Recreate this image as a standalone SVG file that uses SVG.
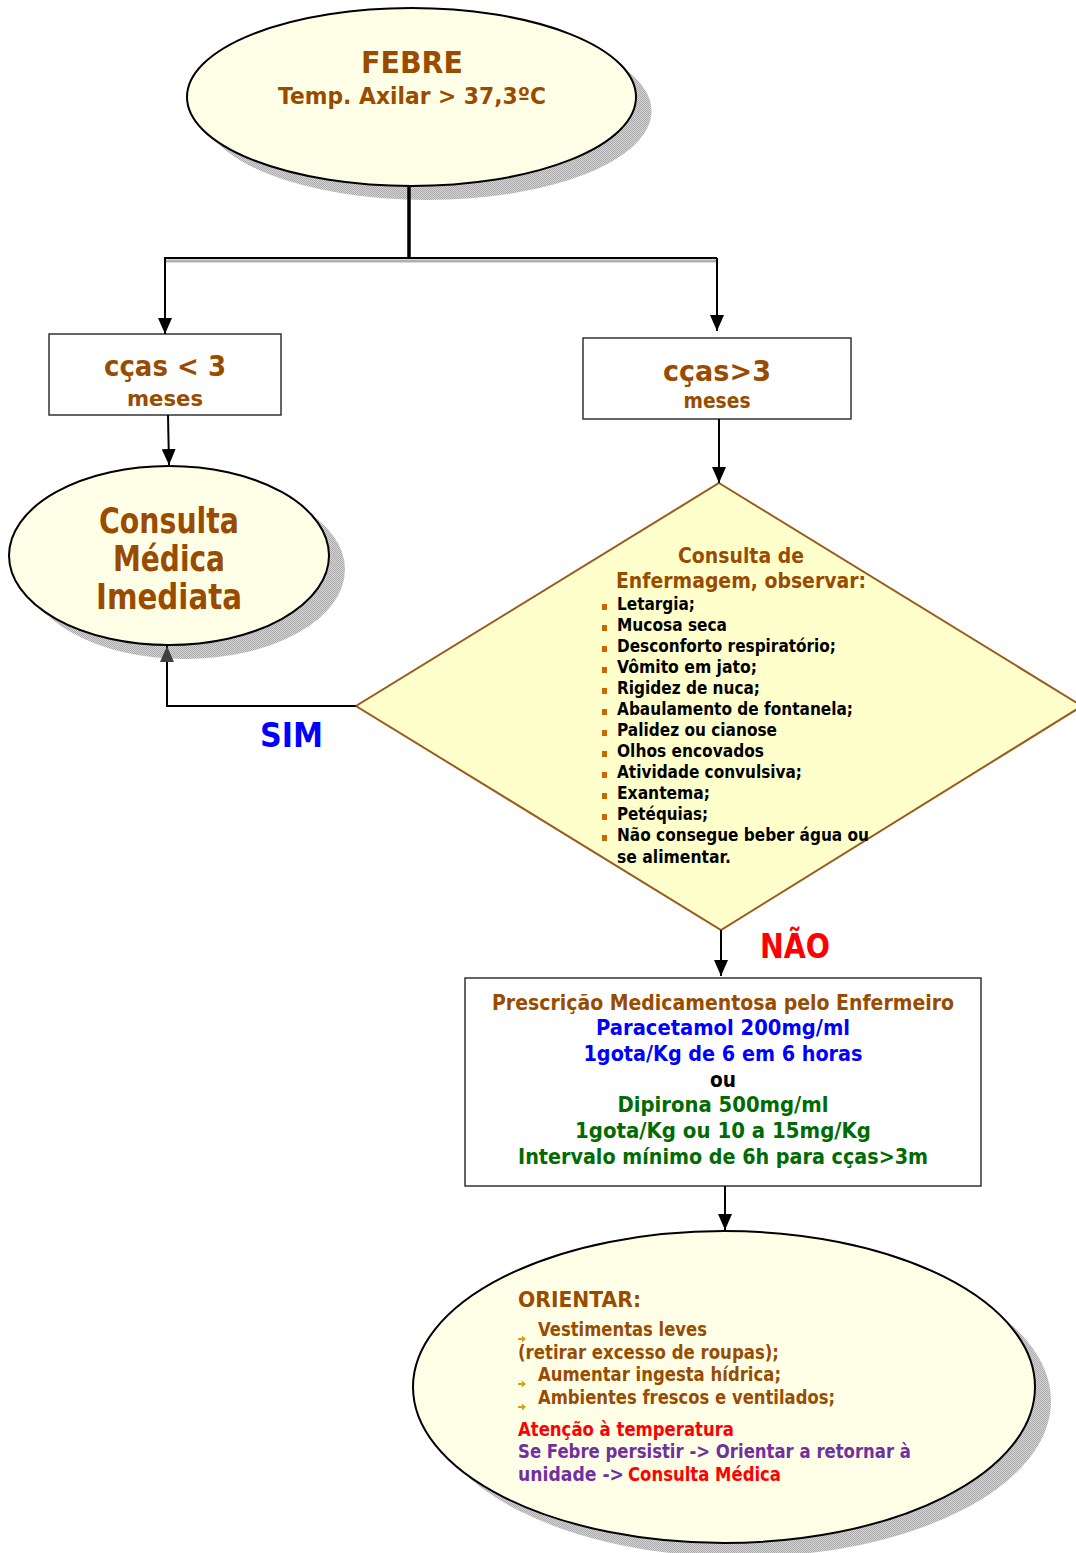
<svg xmlns="http://www.w3.org/2000/svg" width="1076" height="1553" viewBox="0 0 1076 1553">
<style>
text{font-family:"DejaVu Sans","Liberation Sans",sans-serif;font-weight:bold}
.br{fill:#994C00}
.bk{fill:#000}
.bl{fill:#0000FF}
.gr{fill:#006B00}
.rd{fill:#FF0000}
.pu{fill:#7030A0}
.oval{fill:#FFFFE8;stroke:#000;stroke-width:2}
.shadow{fill:url(#hatch)}
.box{fill:#FFFFFF;stroke:#333;stroke-width:1.5}
.conn{fill:none;stroke:#000;stroke-width:2}
.mid{text-anchor:middle}
</style>
<defs>
<pattern id="hatch" width="2" height="2" patternUnits="userSpaceOnUse">
<rect width="2" height="2" fill="#D4D4D4"/>
<rect width="1" height="1" fill="#ABABAB"/>
<rect x="1" y="1" width="1" height="1" fill="#ABABAB"/>
</pattern>
<marker id="ah" viewBox="0 0 16 14" refX="16" refY="7" markerWidth="16" markerHeight="14" markerUnits="userSpaceOnUse" orient="auto">
<path d="M0,0 L16,7 L0,14 Z" fill="#000"/>
</marker>
<marker id="ahg" viewBox="0 0 16 14" refX="16" refY="7" markerWidth="16" markerHeight="14" markerUnits="userSpaceOnUse" orient="auto">
<path d="M0,0 L16,7 L0,14 Z" fill="#404040"/>
</marker>
</defs>
<rect width="1076" height="1553" fill="#FFFFFF"/>

<g id="febre">
<ellipse cx="427" cy="111" rx="224.5" ry="89" class="shadow"/>
<ellipse cx="411.5" cy="97" rx="224.5" ry="89" class="oval"/>
<text x="412" y="73" class="br mid" font-size="31" textLength="102" lengthAdjust="spacingAndGlyphs">FEBRE</text>
<text x="412" y="104" class="br mid" font-size="23" textLength="268" lengthAdjust="spacingAndGlyphs">Temp. Axilar &gt; 37,3ºC</text>
</g>

<g id="box-menos3">
<rect x="49" y="334" width="232" height="81" class="box"/>
<text x="165" y="376" class="br mid" font-size="28" textLength="122" lengthAdjust="spacingAndGlyphs">cças &lt; 3</text>
<text x="165" y="406" class="br mid" font-size="22" textLength="76" lengthAdjust="spacingAndGlyphs">meses</text>
</g>

<g id="box-mais3">
<rect x="583" y="338" width="268" height="81" class="box"/>
<text x="717" y="381" class="br mid" font-size="28" textLength="108" lengthAdjust="spacingAndGlyphs">cças&gt;3</text>
<text x="717" y="408" class="br mid" font-size="21" textLength="67" lengthAdjust="spacingAndGlyphs">meses</text>
</g>

<g id="consulta-medica">
<ellipse cx="185" cy="569.5" rx="160" ry="89.5" class="shadow"/>
<ellipse cx="169" cy="555.5" rx="160" ry="89.5" class="oval"/>
<text x="169" y="533" class="br mid" font-size="35" textLength="140" lengthAdjust="spacingAndGlyphs">Consulta</text>
<text x="169" y="571" class="br mid" font-size="35" textLength="112" lengthAdjust="spacingAndGlyphs">Médica</text>
<text x="169" y="609" class="br mid" font-size="35" textLength="146" lengthAdjust="spacingAndGlyphs">Imediata</text>
</g>

<g id="label-sim">
<text x="260" y="747" class="bl" font-size="33" textLength="63" lengthAdjust="spacingAndGlyphs">SIM</text>
</g>

<g id="diamond">
<polygon points="719,483 1082,706 721,930 356,706" fill="#FFFFCC" stroke="#9C5A1E" stroke-width="2"/>
<text x="741" y="563" class="br mid" font-size="21" textLength="126" lengthAdjust="spacingAndGlyphs">Consulta de</text>
<text x="741" y="588" class="br mid" font-size="21" textLength="250" lengthAdjust="spacingAndGlyphs">Enfermagem, observar:</text>
<g fill="#CC6600">
<rect x="602" y="604" width="5" height="6"/>
<rect x="602" y="625" width="5" height="6"/>
<rect x="602" y="646" width="5" height="6"/>
<rect x="602" y="667" width="5" height="6"/>
<rect x="602" y="688" width="5" height="6"/>
<rect x="602" y="709" width="5" height="6"/>
<rect x="602" y="730" width="5" height="6"/>
<rect x="602" y="751" width="5" height="6"/>
<rect x="602" y="772" width="5" height="6"/>
<rect x="602" y="793" width="5" height="6"/>
<rect x="602" y="814" width="5" height="6"/>
<rect x="602" y="835" width="5" height="6"/>
</g>
<g class="bk" font-size="17">
<text x="617" y="610" textLength="78" lengthAdjust="spacingAndGlyphs">Letargia;</text>
<text x="617" y="631" textLength="110" lengthAdjust="spacingAndGlyphs">Mucosa seca</text>
<text x="617" y="652" textLength="219" lengthAdjust="spacingAndGlyphs">Desconforto respiratório;</text>
<text x="617" y="673" textLength="140" lengthAdjust="spacingAndGlyphs">Vômito em jato;</text>
<text x="617" y="694" textLength="143" lengthAdjust="spacingAndGlyphs">Rigidez de nuca;</text>
<text x="617" y="715" textLength="236" lengthAdjust="spacingAndGlyphs">Abaulamento de fontanela;</text>
<text x="617" y="736" textLength="160" lengthAdjust="spacingAndGlyphs">Palidez ou cianose</text>
<text x="617" y="757" textLength="147" lengthAdjust="spacingAndGlyphs">Olhos encovados</text>
<text x="617" y="778" textLength="185" lengthAdjust="spacingAndGlyphs">Atividade convulsiva;</text>
<text x="617" y="799" textLength="93" lengthAdjust="spacingAndGlyphs">Exantema;</text>
<text x="617" y="820" textLength="91" lengthAdjust="spacingAndGlyphs">Petéquias;</text>
<text x="617" y="841" textLength="252" lengthAdjust="spacingAndGlyphs">Não consegue beber água ou</text>
<text x="617" y="863" textLength="114" lengthAdjust="spacingAndGlyphs">se alimentar.</text>
</g>
</g>

<g id="label-nao">
<text x="760" y="958" class="rd" font-size="33" textLength="70" lengthAdjust="spacingAndGlyphs">NÃO</text>
</g>

<g id="prescricao">
<rect x="465" y="978" width="516" height="208" class="box"/>
<g font-size="21">
<text x="723" y="1010" class="br mid" textLength="462" lengthAdjust="spacingAndGlyphs">Prescrição Medicamentosa pelo Enfermeiro</text>
<text x="723" y="1035" class="bl mid" textLength="254" lengthAdjust="spacingAndGlyphs">Paracetamol 200mg/ml</text>
<text x="723" y="1061" class="bl mid" textLength="279" lengthAdjust="spacingAndGlyphs">1gota/Kg de 6 em 6 horas</text>
<text x="723" y="1087" class="bk mid" textLength="26" lengthAdjust="spacingAndGlyphs">ou</text>
<text x="723" y="1112" class="gr mid" textLength="211" lengthAdjust="spacingAndGlyphs">Dipirona 500mg/ml</text>
<text x="723" y="1138" class="gr mid" textLength="296" lengthAdjust="spacingAndGlyphs">1gota/Kg ou 10 a 15mg/Kg</text>
<text x="723" y="1164" class="gr mid" textLength="410" lengthAdjust="spacingAndGlyphs">Intervalo mínimo de 6h para cças&gt;3m</text>
</g>
</g>

<g id="orientar">
<ellipse cx="740" cy="1401" rx="311" ry="156" class="shadow"/>
<ellipse cx="724" cy="1387" rx="311" ry="156" class="oval"/>
<text x="518" y="1307" class="br" font-size="21" textLength="123" lengthAdjust="spacingAndGlyphs">ORIENTAR:</text>
<g fill="#D4A017">
<path d="M518,1338 h4 v-2.5 l4,3.5 l-4,3.5 v-2.5 h-4 z"/>
<path d="M518,1383 h4 v-2.5 l4,3.5 l-4,3.5 v-2.5 h-4 z"/>
<path d="M518,1406 h4 v-2.5 l4,3.5 l-4,3.5 v-2.5 h-4 z"/>
</g>
<g font-size="19">
<text x="538" y="1336" class="br" textLength="169" lengthAdjust="spacingAndGlyphs">Vestimentas leves</text>
<text x="518" y="1359" class="br" textLength="261" lengthAdjust="spacingAndGlyphs">(retirar excesso de roupas);</text>
<text x="538" y="1381" class="br" textLength="243" lengthAdjust="spacingAndGlyphs">Aumentar ingesta hídrica;</text>
<text x="538" y="1404" class="br" textLength="297" lengthAdjust="spacingAndGlyphs">Ambientes frescos e ventilados;</text>
<text x="518" y="1436" class="rd" textLength="216" lengthAdjust="spacingAndGlyphs">Atenção à temperatura</text>
<text x="518" y="1458" class="pu" textLength="393" lengthAdjust="spacingAndGlyphs">Se Febre persistir -&gt; Orientar a retornar à</text>
<text x="518" y="1481" class="pu" textLength="106" lengthAdjust="spacingAndGlyphs">unidade -&gt;</text>
<text x="628" y="1481" class="rd" textLength="153" lengthAdjust="spacingAndGlyphs">Consulta Médica</text>
</g>
</g>

<g id="connectors">
<line x1="409" y1="187" x2="409" y2="258" stroke="#000" stroke-width="3.5"/>
<line x1="164" y1="261" x2="717" y2="261" stroke="#B0B0B0" stroke-width="3"/>
<line x1="164" y1="258" x2="717" y2="258" stroke="#000" stroke-width="2"/>
<line x1="165" y1="258" x2="165" y2="334" class="conn" marker-end="url(#ah)"/>
<line x1="717" y1="258" x2="717" y2="331" class="conn" marker-end="url(#ah)"/>
<line x1="168" y1="415" x2="169" y2="465" class="conn" marker-end="url(#ah)"/>
<line x1="719" y1="419" x2="719" y2="483" class="conn" marker-end="url(#ah)"/>
<polyline points="356,706 167,706 167,646" class="conn" marker-end="url(#ahg)"/>
<line x1="721" y1="930" x2="721" y2="976" class="conn" marker-end="url(#ah)"/>
<line x1="725" y1="1186" x2="725" y2="1230" class="conn" marker-end="url(#ah)"/>
</g>
</svg>
